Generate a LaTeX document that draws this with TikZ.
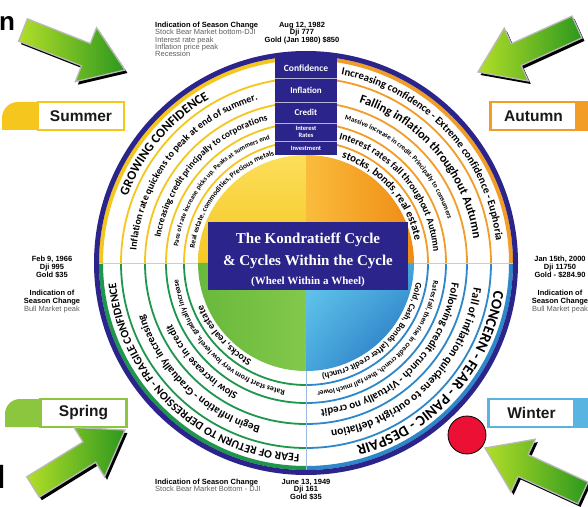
\documentclass[tikz,border=0pt]{standalone}
\usepackage{fontspec}
\setmainfont{Liberation Sans}
\newfontfamily\rfont{Carlito}
\newfontfamily\tfont{Liberation Serif}
\usetikzlibrary{decorations.text,calc,shadings}
\definecolor{kpurple}{RGB}{43,36,138}
\definecolor{kyellow}{RGB}{245,198,30}
\definecolor{korange}{RGB}{241,157,40}
\definecolor{kgreen}{RGB}{30,150,75}
\definecolor{kblue}{RGB}{45,135,200}
\definecolor{kred}{RGB}{236,16,52}
\definecolor{anngray}{RGB}{95,95,95}
\definecolor{springgreen}{RGB}{140,198,63}
\definecolor{winterblue}{RGB}{90,180,225}
\definecolor{arrowlight}{RGB}{178,222,40}
\definecolor{arrowdark}{RGB}{45,152,30}
\definecolor{hlinecol}{RGB}{246,200,120}
\definecolor{vlinecol}{RGB}{150,185,220}
\definecolor{dyel1}{RGB}{252,222,90}
\definecolor{dyel2}{RGB}{245,200,35}
\definecolor{dora1}{RGB}{250,188,60}
\definecolor{dora2}{RGB}{239,140,20}
\definecolor{dgrn1}{RGB}{105,185,60}
\definecolor{dgrn2}{RGB}{130,200,75}
\definecolor{dblu1}{RGB}{105,205,238}
\definecolor{dblu2}{RGB}{70,165,220}
\definecolor{dblu3}{RGB}{30,105,185}
\newcommand\ringtext[4]{%
  \pgfmathsetmacro\rtb{#1-0.3*#3}%
  \pgfmathsetmacro\rts{#2+60}%
  \pgfmathsetmacro\rte{#2-60}%
  \path[shift={(C)},decorate,decoration={text along path,text align=center,
    text={|\rfont\bfseries\fontsize{#3}{#3}\selectfont|#4}}]
    (\rts:\rtb pt) arc[start angle=\rts,end angle=\rte,radius=\rtb pt];}
\newcommand\greenarrow[4]{%
  \pgfmathsetmacro\gadx{#3-#1}%
  \pgfmathsetmacro\gady{#4-#2}%
  \pgfmathsetmacro\gaang{atan2(\gady,\gadx)}%
  \pgfmathsetmacro\galen{veclen(\gadx,\gady)}%
  \pgfmathsetmacro\gahb{\galen-42}%
  \fill[black,shift={(#1+2.5,#2-3)},rotate=\gaang] (0,12) -- (\gahb,12) -- (\gahb,29) -- (\galen,0) -- (\gahb,-29) -- (\gahb,-12) -- (0,-12) -- cycle;
  \shade[draw=gray!55,line width=1.3pt,left color=arrowlight,right color=arrowdark,shift={(#1,#2)},rotate=\gaang] (0,12) -- (\gahb,12) -- (\gahb,29) -- (\galen,0) -- (\gahb,-29) -- (\gahb,-12) -- (0,-12) -- cycle;}
\begin{document}
\begin{tikzpicture}[x=1pt,y=1pt,
  seasonbox/.style={draw,line width=2.5pt,fill=white,minimum width=86pt,minimum height=28pt,inner sep=0pt,font=\bfseries\fontsize{15.5}{15.5}\selectfont,text=black!90},
  colabel/.style={text=white,inner sep=0pt,align=center},
  ringline/.style={line width=1.8pt},
  titletext/.style={text=white,inner sep=0pt}]
\useasboundingbox (0,0) rectangle (588,506);
\fill[white] (0,0) rectangle (588,506);
\coordinate (C) at (306,243);
% central disc
\shade[top color=dyel1,bottom color=dyel2] (C) -- ++(90:108pt) arc[start angle=90,end angle=180,radius=108pt] -- cycle;
\shade[left color=dora1,right color=dora2] (C) -- ++(0:108pt) arc[start angle=0,end angle=90,radius=108pt] -- cycle;
\shade[left color=dgrn1,right color=dgrn2] (C) -- ++(180:108pt) arc[start angle=180,end angle=270,radius=108pt] -- cycle;
\shade[upper left=dblu1,upper right=dblu2,lower left=dblu2,lower right=dblu3] (C) -- ++(270:108pt) arc[start angle=270,end angle=360,radius=108pt] -- cycle;
% ring lines
\foreach \col/\a in {korange/0,kyellow/90,kgreen/180,kblue/270}{
  \foreach \rr in {122,140,161,185}{
    \draw[\col,ringline] ($(C)+(\a:\rr pt)$) arc[start angle=\a,end angle=\a+90,radius=\rr pt];
  }
  \draw[\col,line width=4pt] ($(C)+(\a:205pt)$) arc[start angle=\a,end angle=\a+90,radius=205pt];
}
\draw[kpurple,line width=5pt] (C) circle (209.5pt);
% dividers
\draw[hlinecol,line width=0.9pt] ($(C)+(-207,0)$) -- ($(C)+(-108,0)$);
\draw[hlinecol,line width=0.9pt] ($(C)+(108,0)$) -- ($(C)+(207,0)$);
\draw[vlinecol,line width=1pt] ($(C)+(0,-108)$) -- ($(C)+(0,-207)$);
% column of boxes
\begin{scope}
  \clip (C) circle (211pt);
  \fill[kpurple] (275,351) rectangle (337,460);
\end{scope}
\foreach \yy in {428,404,383,365}{
  \draw[white!65!kpurple,line width=0.6pt] (275,\yy) -- (337,\yy);
}
\node[colabel,font=\rfont\bfseries\fontsize{9.5}{9.5}\selectfont] (conf) at (306,438) {Confidence};
\node[colabel,font=\rfont\bfseries\fontsize{9}{9}\selectfont] (infl) at (306,416) {Inflation};
\node[colabel,font=\rfont\bfseries\fontsize{9}{9}\selectfont] (cred) at (306,393.5) {Credit};
\node[colabel,font=\rfont\bfseries\fontsize{6.5}{7}\selectfont] (intr) at (306,374) {Interest\\Rates};
\node[colabel,font=\rfont\bfseries\fontsize{6.5}{6.5}\selectfont] (inv) at (306,358) {Investment};
% title box
\node[fill=kpurple,minimum width=200pt,minimum height=68pt,inner sep=0pt] (titlebox) at (308,250) {};
\node[titletext,font=\tfont\bfseries\fontsize{15}{15}\selectfont] (t1) at (308,266) {The Kondratieff Cycle};
\node[titletext,font=\tfont\bfseries\fontsize{15}{15}\selectfont] (t2) at (308,244) {\& Cycles Within the Cycle};
\node[titletext,font=\tfont\bfseries\fontsize{11}{11}\selectfont] (t3) at (308,224) {(Wheel Within a Wheel)};
% ring texts - Summer
\ringtext{194.5}{140}{13}{GROWING CONFIDENCE}
\ringtext{173}{141}{10}{Inflation rate quickens to peak at end of summer.}
\ringtext{150.5}{137.5}{9.3}{Increasing credit principally to corporations}
\ringtext{131}{139.5}{6.8}{Pace of rate increase picks up. Peaks at summers end}
\ringtext{114.5}{139.5}{7.4}{Real estate, commodities, Precious metals}
% Autumn
\ringtext{194.5}{43}{10.8}{Increasing confidence - Extreme confidence - Euphoria}
\ringtext{173}{40}{12.5}{Falling inflation throughout Autumn}
\ringtext{150.5}{46}{7}{Massive increase in credit. Principally to consumers}
\ringtext{131}{40}{10}{Interest rates fall throughout Autumn}
\ringtext{114.5}{41.5}{11}{stocks, bonds, real estate}
% Winter
\ringtext{194.5}{-41.5}{15}{CONCERN - FEAR - PANIC - DESPAIR}
\ringtext{173}{-45}{11.5}{Fall of inflation quickens to outright deflation}
\ringtext{150.5}{-46}{11}{Following credit crunch - Virtually no credit}
\ringtext{131}{-46.5}{7.3}{Rates fall, then rise in credit crunch, then fall much lower}
\ringtext{114.5}{-46}{8.8}{Gold, Cash, Bonds (after credit crunch)}
% Spring
\ringtext{194.5}{-133}{11.5}{FEAR OF RETURN TO DEPRESSION - FRAGILE CONFIDENCE}
\ringtext{173}{-134}{11}{Begin Inflation - Gradually increasing}
\ringtext{150.5}{-136.5}{10.5}{Slow increase in credit}
\ringtext{131}{-136}{7.8}{Rates start from very low levels, gradually increase}
\ringtext{114.5}{-138.5}{10}{Stocks, real estate}
% annotations
\node[anchor=north west,align=left,inner sep=0pt,font=\fontsize{7.5}{7.3}\selectfont] (annTop) at (155,484)
  {\textbf{Indication of Season Change}\\\textcolor{anngray}{Stock Bear Market bottom-DJI}\\\textcolor{anngray}{Interest rate peak}\\\textcolor{anngray}{Inflation price peak}\\\textcolor{anngray}{Recession}};
\node[anchor=north,align=center,inner sep=0pt,font=\bfseries\fontsize{7.5}{7.3}\selectfont] (annAug) at (302,484)
  {Aug 12, 1982\\Dji 777\\Gold (Jan 1980) \$850};
\node[anchor=north,align=center,inner sep=0pt,font=\bfseries\fontsize{7.5}{8}\selectfont] (annLeft) at (52,250)
  {Feb 9, 1966\\Dji 995\\Gold \$35\\[10pt]Indication of\\Season Change\\\textcolor{anngray}{\mdseries Bull Market peak}};
\node[anchor=north,align=center,inner sep=0pt,font=\bfseries\fontsize{7.5}{8}\selectfont] (annRight) at (560,250)
  {Jan 15th, 2000\\Dji 11750\\Gold - \$284.90\\[10pt]Indication of\\Season Change\\\textcolor{anngray}{\mdseries Bull Market peak}};
\node[anchor=north west,align=left,inner sep=0pt,font=\fontsize{7.5}{7.3}\selectfont] (annBot) at (155,27)
  {\textbf{Indication of Season Change}\\\textcolor{anngray}{Stock Bear Market Bottom - DJI}};
\node[anchor=north,align=center,inner sep=0pt,font=\bfseries\fontsize{7.5}{7.3}\selectfont] (annJune) at (306,27)
  {June 13, 1949\\Dji 161\\Gold \$35};
% season labels
\fill[kyellow] (45,376) -- (2,376) -- (2,388) arc[start angle=180,end angle=90,radius=16pt] -- (45,404) -- cycle;
\node[seasonbox,draw=kyellow] (summer) at (81,390) {Summer};
\fill[springgreen] (45,79) -- (5,79) -- (5,92) arc[start angle=180,end angle=90,radius=15pt] -- (45,107) -- cycle;
\node[seasonbox,draw=springgreen] (spring) at (83.5,93) {Spring};
\fill[korange] (570,375) rectangle (588,405);
\node[seasonbox,draw=korange] (autumn) at (533.5,390) {Autumn};
\fill[winterblue] (570,78) rectangle (588,108);
\node[seasonbox,draw=winterblue] (winter) at (531.5,93) {Winter};
% cut letters at the left edge
\node[anchor=base west,inner sep=0pt,font=\bfseries\fontsize{26}{26}\selectfont] (ncut) at (-1,475) {n};
\node[anchor=base west,inner sep=0pt,font=\bfseries\fontsize{32}{32}\selectfont] (lcut) at (-3.5,18) {l};
% arrows
\greenarrow{23}{476}{125}{436}
\greenarrow{577}{479}{478}{434}
\greenarrow{33}{19}{125}{76}
\greenarrow{583}{13}{485}{58}
% red dot
\node[circle,fill=kred,draw=black,line width=0.8pt,minimum size=38pt,inner sep=0pt] (dot) at (467,71) {};
\end{tikzpicture}
\end{document}
